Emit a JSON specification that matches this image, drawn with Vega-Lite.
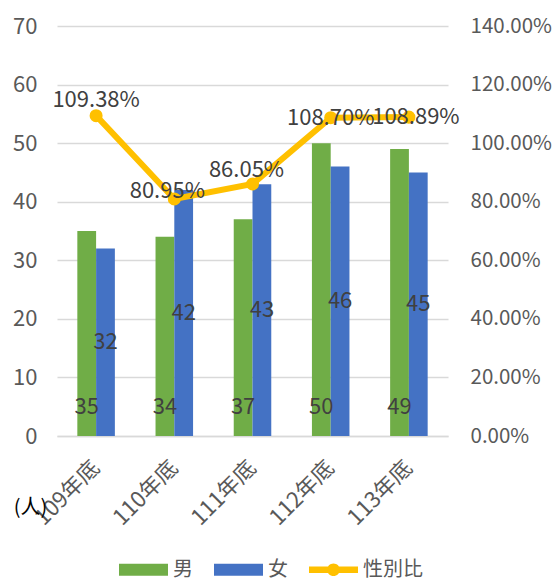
{
  "$schema": "https://vega.github.io/schema/vega-lite/v6.json",
  "width": 391,
  "height": 410,
  "autosize": {"type": "none"},
  "padding": {"left": 57, "top": 26, "right": 108, "bottom": 147},
  "background": "white",
  "config": {
    "view": {"stroke": null},
    "font": "Noto Sans CJK TC",
    "axis": {
      "labelFont": "Noto Sans CJK TC",
      "labelFontSize": 22,
      "labelColor": "#595959",
      "domain": false,
      "ticks": false,
      "gridColor": "#D9D9D9",
      "gridWidth": 1.3
    }
  },
  "datasets": {
    "bars": [
      {"年": "109年底", "性別": "男", "人數": 35},
      {"年": "109年底", "性別": "女", "人數": 32},
      {"年": "110年底", "性別": "男", "人數": 34},
      {"年": "110年底", "性別": "女", "人數": 42},
      {"年": "111年底", "性別": "男", "人數": 37},
      {"年": "111年底", "性別": "女", "人數": 43},
      {"年": "112年底", "性別": "男", "人數": 50},
      {"年": "112年底", "性別": "女", "人數": 46},
      {"年": "113年底", "性別": "男", "人數": 49},
      {"年": "113年底", "性別": "女", "人數": 45}
    ],
    "ratio": [
      {"年": "109年底", "性別比": 1.0938},
      {"年": "110年底", "性別比": 0.8095},
      {"年": "111年底", "性別比": 0.8605},
      {"年": "112年底", "性別比": 1.087},
      {"年": "113年底", "性別比": 1.0889}
    ]
  },
  "encoding": {
    "x": {
      "field": "年",
      "type": "nominal",
      "scale": {"paddingInner": 0.52, "paddingOuter": 0.26},
      "axis": {
        "title": null,
        "labelAngle": -45,
        "labelAlign": "right",
        "labelBaseline": "middle",
        "labelPadding": 28,
        "domain": true,
        "domainColor": "#D9D9D9",
        "domainWidth": 1.3
      }
    }
  },
  "layer": [
    {
      "data": {"name": "bars"},
      "layer": [
        {
          "mark": {"type": "bar"},
          "encoding": {
            "xOffset": {"field": "性別", "type": "nominal", "sort": ["男", "女"], "scale": {"paddingInner": 0, "paddingOuter": 0}},
            "y": {
              "field": "人數",
              "type": "quantitative",
              "scale": {"domain": [0, 70], "nice": false},
              "axis": {
                "values": [0, 10, 20, 30, 40, 50, 60, 70],
                "grid": true,
                "labelPadding": 20,
                "title": "(人)",
                "titleAngle": 0,
                "titleX": -27,
                "titleY": 481,
                "titleAlign": "center",
                "titleBaseline": "middle",
                "titleFont": "Noto Sans CJK TC",
                "titleFontSize": 20,
                "titleFontWeight": "normal",
                "titleColor": "#000000"
              }
            },
            "color": {
              "field": "性別",
              "type": "nominal",
              "scale": {"domain": ["男", "女", "性別比"], "range": ["#70AD47", "#4472C4", "#FFC000"]},
              "legend": {
                "orient": "none",
                "direction": "horizontal",
                "legendX": 62,
                "legendY": 519,
                "title": null,
                "labelFont": "Noto Sans CJK TC",
                "labelFontSize": 20,
                "labelColor": "#595959",
                "labelOffset": 5,
                "columnPadding": 21,
                "symbolSize": 2401,
                "symbolStrokeWidth": 0,
                "encode": {
                  "symbols": {
                    "update": {
                      "shape": {"signal": "datum.value === '性別比' ? 'M-1,-0.13H1V0.13H-1Z M0.26,0A0.26,0.26,0,1,1,-0.26,0A0.26,0.26,0,1,1,0.26,0Z' : 'M-1,-0.245H1V0.245H-1Z'"},
                      "fill": {"scale": "color", "field": "value"},
                      "stroke": {"value": "transparent"},
                      "size": {"value": 2401},
                      "opacity": {"value": 1}
                    }
                  }
                }
              }
            }
          }
        },
        {
          "transform": [{"filter": "datum['性別'] === '男'"}],
          "mark": {"type": "text", "dy": -29.5, "baseline": "middle", "fontSize": 22, "color": "#404040", "font": "Noto Sans CJK TC"},
          "encoding": {
            "xOffset": {"field": "性別", "type": "nominal", "sort": ["男", "女"]},
            "y": {"datum": 0, "type": "quantitative"},
            "text": {"field": "人數", "type": "quantitative"}
          }
        }
      ]
    },
    {
      "data": {"name": "bars"},
      "transform": [{"filter": "datum['性別'] === '女'"}],
      "mark": {"type": "text", "baseline": "middle", "fontSize": 22, "color": "#404040", "font": "Noto Sans CJK TC"},
      "encoding": {
        "xOffset": {"field": "性別", "type": "nominal", "sort": ["男", "女"]},
        "y": {"field": "人數", "type": "quantitative", "scale": {"domain": [0, 140], "nice": false}, "axis": null},
        "text": {"field": "人數", "type": "quantitative"}
      }
    },
    {
      "data": {"name": "ratio"},
      "encoding": {
        "y": {
          "field": "性別比",
          "type": "quantitative",
          "scale": {"domain": [0, 1.4], "nice": false},
          "axis": {
            "orient": "right",
            "values": [0, 0.2, 0.4, 0.6, 0.8, 1.0, 1.2, 1.4],
            "format": ".2%",
            "labelPadding": 22,
            "labelFontSize": 20.5,
            "grid": false,
            "title": null
          }
        }
      },
      "layer": [
        {
          "mark": {"type": "line", "strokeWidth": 6},
          "encoding": {"color": {"datum": "性別比"}}
        },
        {
          "mark": {"type": "point", "filled": true, "size": 170, "opacity": 1},
          "encoding": {"color": {"datum": "性別比"}}
        },
        {
          "transform": [{"filter": "datum['年'] === '109年底'"}],
          "mark": {"type": "text", "dy": -16, "baseline": "middle", "fontSize": 22, "color": "#404040", "font": "Noto Sans CJK TC"},
          "encoding": {"text": {"field": "性別比", "type": "quantitative", "format": ".2%"}}
        },
        {
          "transform": [{"filter": "datum['年'] === '110年底'"}],
          "mark": {"type": "text", "dx": -7, "dy": -8, "baseline": "middle", "fontSize": 22, "color": "#404040", "font": "Noto Sans CJK TC"},
          "encoding": {"text": {"field": "性別比", "type": "quantitative", "format": ".2%"}}
        },
        {
          "transform": [{"filter": "datum['年'] === '111年底'"}],
          "mark": {"type": "text", "dx": -6, "dy": -14, "baseline": "middle", "fontSize": 22, "color": "#404040", "font": "Noto Sans CJK TC"},
          "encoding": {"text": {"field": "性別比", "type": "quantitative", "format": ".2%"}}
        },
        {
          "transform": [{"filter": "datum['年'] === '112年底'"}],
          "mark": {"type": "text", "dx": 0, "dy": 0, "baseline": "middle", "fontSize": 22, "color": "#404040", "font": "Noto Sans CJK TC"},
          "encoding": {"text": {"field": "性別比", "type": "quantitative", "format": ".2%"}}
        },
        {
          "transform": [{"filter": "datum['年'] === '113年底'"}],
          "mark": {"type": "text", "dx": 7, "dy": 0, "baseline": "middle", "fontSize": 22, "color": "#404040", "font": "Noto Sans CJK TC"},
          "encoding": {"text": {"field": "性別比", "type": "quantitative", "format": ".2%"}}
        }
      ]
    }
  ],
  "resolve": {"scale": {"y": "independent"}}
}
